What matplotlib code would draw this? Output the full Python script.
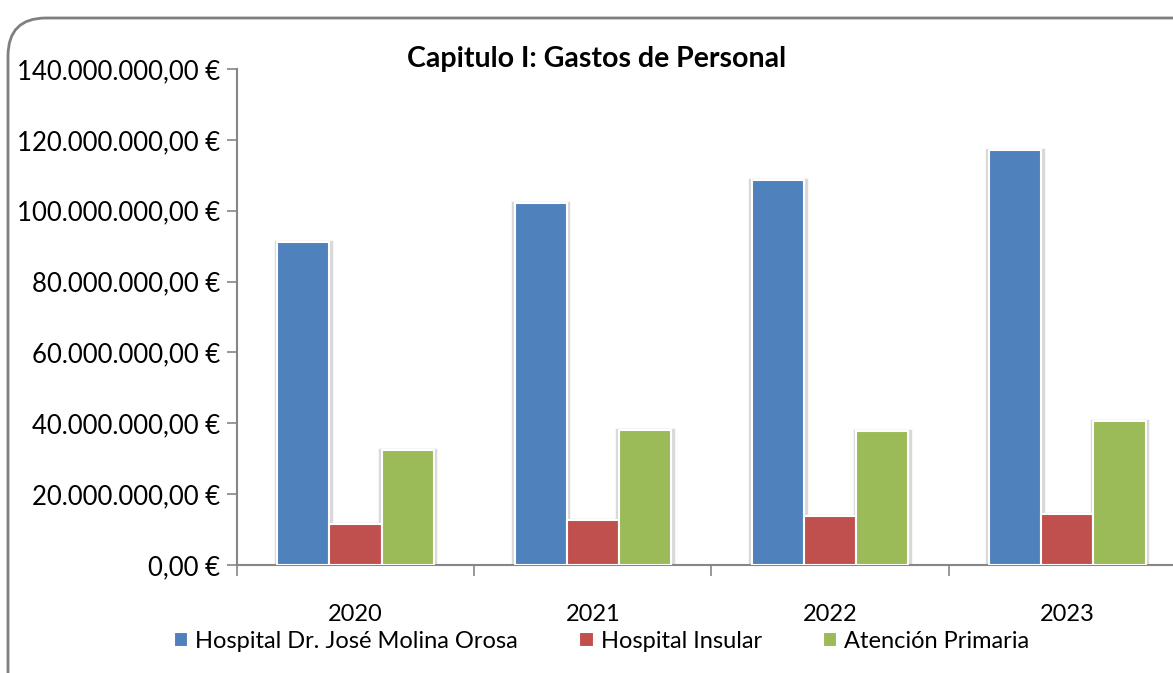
import matplotlib
matplotlib.use("Agg")
import matplotlib.pyplot as plt
import numpy as np
from matplotlib.patches import FancyBboxPatch
from matplotlib.ticker import FuncFormatter, FixedLocator
from matplotlib.transforms import IdentityTransform

years = ["2020", "2021", "2022", "2023"]
series_names = ["Hospital Dr. José Molina Orosa", "Hospital Insular", "Atención Primaria"]
molina = [91.2e6, 102.2e6, 108.7e6, 117.1e6]
insular = [11.6e6, 12.7e6, 13.8e6, 14.4e6]
primaria = [32.5e6, 38.1e6, 37.8e6, 40.6e6]
colors = ["#4F81BD", "#C0504D", "#9BBB59"]

plt.rcParams["font.family"] = ["Lato", "DejaVu Sans"]


def euro(v, pos):
    s = f"{v:,.2f}"
    s = s.replace(",", "X").replace(".", ",").replace("X", ".")
    return s + " €"


fig = plt.figure(figsize=(11.73, 6.73), dpi=100)
ax = fig.add_axes([0.202, 0.1605, 0.809, 0.737])

x = np.arange(len(years))
w = 0.22
for i, vals in enumerate([molina, insular, primaria]):
    # faint glow behind each bar
    ax.bar(x + (i - 1) * w, vals, w * 1.06, color="none", edgecolor="#d9d9d9",
           linewidth=2.5, zorder=2)
    ax.bar(x + (i - 1) * w, vals, w, color=colors[i], edgecolor="white",
           linewidth=1.5, label=series_names[i], zorder=3)

ax.set_xlim(-0.5, len(years) - 0.5)
ax.set_ylim(0, 140e6)
ax.set_yticks(np.arange(0, 140e6 + 1, 20e6))
ax.yaxis.set_major_formatter(FuncFormatter(euro))
ax.set_xticks(x)
ax.set_xticklabels(years)
ax.xaxis.set_minor_locator(FixedLocator(np.arange(-0.5, len(years), 1)))
ax.tick_params(axis="x", which="major", length=0, pad=28, labelsize=17)
ax.tick_params(axis="x", which="minor", length=8, color="#868686", width=1.2, direction="out")
ax.tick_params(axis="y", length=7, color="#868686", width=1.2, labelsize=18.5, pad=5)

for s in ["top", "right"]:
    ax.spines[s].set_visible(False)
for s in ["left", "bottom"]:
    ax.spines[s].set_color("#868686")
    ax.spines[s].set_linewidth(1.5)

fig.text(0.509, 0.913, "Capitulo I: Gastos de Personal", ha="center", va="center",
         fontsize=20.5, fontweight="bold")

fig.legend(loc="center", bbox_to_anchor=(0.513, 0.047), ncol=3, frameon=False,
           fontsize=17, handlelength=0.6, handleheight=0.6, handletextpad=0.3,
           columnspacing=2.6)

border = FancyBboxPatch((8, -40), 1220, 695, transform=IdentityTransform(),
                        boxstyle="round,pad=0,rounding_size=38",
                        facecolor="none", edgecolor="#7f7f7f", linewidth=2)
fig.patches.append(border)

fig.savefig("out.png", dpi=100)
